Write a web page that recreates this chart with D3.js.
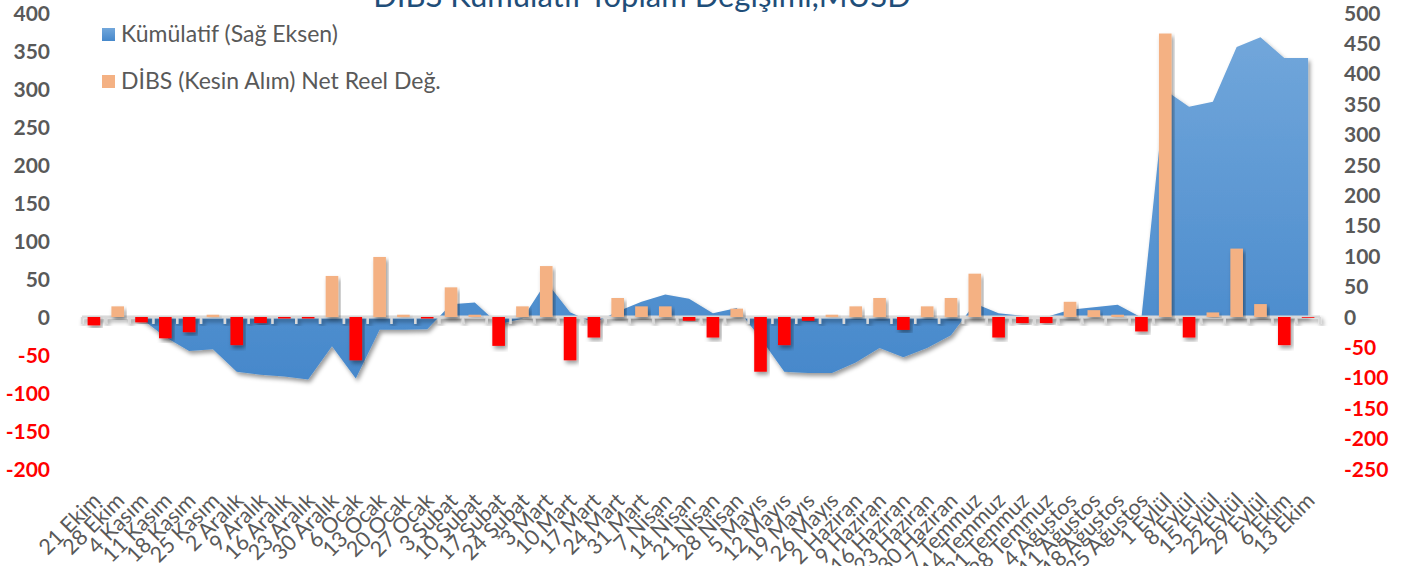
<!DOCTYPE html>
<html>
<head>
<meta charset="utf-8">
<script src="https://cdn.jsdelivr.net/npm/d3@7"></script>
<style>
  body { margin: 0; background: #fff; }
  svg { display: block; font-family: Lato, "Open Sans", sans-serif; }
</style>
</head>
<body>
<div class="canvas"></div>
<script>
const categories = ['21 Ekim','28 Ekim','4 Kasım','11 Kasım','18 Kasım','25 Kasım','2 Aralık','9 Aralık','16 Aralık','23 Aralık','30 Aralık',
  '6 Ocak','13 Ocak','20 Ocak','27 Ocak','3 Şubat','10 Şubat','17 Şubat','24 Şubat','3 Mart','10 Mart','17 Mart','24 Mart','31 Mart',
  '7 Nisan','14 Nisan','21 Nisan','28 Nisan','5 Mayıs','12 Mayıs','19 Mayıs','26 Mayıs','2 Haziran','9 Haziran','16 Haziran','23 Haziran','30 Haziran',
  '7 Temmuz','14 Temmuz','21 Temmuz','28 Temmuz','4 Ağustos','11 Ağustos','18 Ağustos','25 Ağustos','1 Eylül','8 Eylül','15 Eylül','22 Eylül','29 Eylül',
  '6 Ekim','13 Ekim'];

// DİBS (Kesin Alım) Net Reel Değ. - left axis
const dibs = [-11, 14, -7, -28, -20, 3, -37, -8, -2, -2, 54, -57, 79, 3, -2, 39, 3, -38, 14, 67, -57, -27, 25, 14, 14, -5,
  -27, 11, -72, -37, -5, 3, 14, 25, -17, 14, 25, 57, -27, -8, -8, 20, 9, 3, -19, 373, -27, 6, 90, 17, -37, -1];

// Kümülatif (Sağ Eksen) - right axis
const cumulative = [-2, 1, -3, -33, -56, -53, -90, -95, -98, -103, -48, -101, -21, -21, -20, 21, 24, -12, -3, 58, 8, -10, 9, 25, 37, 30,
  6, 15, -35, -90, -92, -92, -75, -51, -66, -51, -30, 22, 6, 2, 0, 12, 16, 20, -1, 373, 346, 354, 444, 460, 426, 426];

const leftTicks = [-200, -150, -100, -50, 0, 50, 100, 150, 200, 250, 300, 350, 400];
const rightTicks = [-250, -200, -150, -100, -50, 0, 50, 100, 150, 200, 250, 300, 350, 400, 450, 500];

const title = 'DİBS Kümülatif Toplam Değişimi,MUSD';
const legendNames = ['Kümülatif (Sağ Eksen)', 'DİBS (Kesin Alım) Net Reel Değ.'];

const dims = { width: 1412, height: 566 };
const plot = { left: 82, right: 1320, top: 13, bottom: 469 };

const svg = d3.select('.canvas')
    .append('svg')
    .attr('width', dims.width)
    .attr('height', dims.height)

const defs = svg.append('defs');

const grad = defs.append('linearGradient')
    .attr('id', 'areaGrad')
    .attr('gradientUnits', 'userSpaceOnUse')
    .attr('x1', 0).attr('y1', 30).attr('x2', 0).attr('y2', 380);
grad.append('stop').attr('offset', '0%').attr('stop-color', '#72a7db');
grad.append('stop').attr('offset', '100%').attr('stop-color', '#4688cb');

const legGrad = defs.append('linearGradient')
    .attr('id', 'legGrad')
    .attr('x1', 0).attr('y1', 0).attr('x2', 0).attr('y2', 1);
legGrad.append('stop').attr('offset', '0%').attr('stop-color', '#72a7db');
legGrad.append('stop').attr('offset', '100%').attr('stop-color', '#4688cb');

const shadow = defs.append('filter')
    .attr('id', 'shadow')
    .attr('x', '-20%').attr('y', '-20%').attr('width', '140%').attr('height', '140%');
shadow.append('feDropShadow')
    .attr('dx', 2).attr('dy', 3).attr('stdDeviation', 2.2)
    .attr('flood-color', '#000').attr('flood-opacity', 0.4);

// scales
const x = d3.scaleBand()
    .domain(categories)
    .range([plot.left, plot.right])
    .paddingInner(0.47)
    .paddingOuter(0.235);

const yL = d3.scaleLinear().domain([-200, 400]).range([plot.bottom, plot.top]);
const yR = d3.scaleLinear().domain([-250, 500]).range([plot.bottom, plot.top]);

const cx = c => x(c) + x.bandwidth() / 2;
const grey = '#595959';

// cumulative area
const area = d3.area()
    .x((d, i) => cx(categories[i]))
    .y0(yR(0))
    .y1(d => yR(d));

svg.append('path')
    .datum(cumulative)
    .attr('d', area)
    .attr('fill', 'url(#areaGrad)')
    .attr('filter', 'url(#shadow)');

// x axis line + ticks
const axisG = svg.append('g').attr('filter', 'url(#shadow)');
axisG.append('line')
    .attr('x1', plot.left).attr('x2', plot.right)
    .attr('y1', yL(0)).attr('y2', yL(0))
    .attr('stroke', '#d9d9d9').attr('stroke-width', 3);

const bounds = d3.range(categories.length + 1).map(i => plot.left + i * x.step());
axisG.selectAll('.tick-mark')
    .data(bounds)
    .enter()
    .append('line')
    .attr('class', 'tick-mark')
    .attr('x1', d => d).attr('x2', d => d)
    .attr('y1', yL(0)).attr('y2', yL(0) + 7)
    .attr('stroke', '#d9d9d9').attr('stroke-width', 2.5);

// bars
svg.append('g')
    .selectAll('rect')
    .data(dibs)
    .enter()
    .append('rect')
    .attr('x', (d, i) => x(categories[i]))
    .attr('width', x.bandwidth())
    .attr('y', d => d >= 0 ? yL(d) : yL(0))
    .attr('height', d => Math.abs(yL(d) - yL(0)))
    .attr('fill', d => d >= 0 ? '#f4b183' : '#ff0000')
    .attr('filter', 'url(#shadow)');

// left axis labels
svg.append('g')
    .selectAll('text')
    .data(leftTicks)
    .enter()
    .append('text')
    .attr('x', 50)
    .attr('y', d => yL(d))
    .attr('dy', '0.36em')
    .attr('text-anchor', 'end')
    .attr('font-size', 21)
    .attr('font-weight', 'bold')
    .attr('fill', d => d < 0 ? '#ff0000' : grey)
    .text(d => d);

// right axis labels
svg.append('g')
    .selectAll('text')
    .data(rightTicks)
    .enter()
    .append('text')
    .attr('x', 1344)
    .attr('y', d => yR(d))
    .attr('dy', '0.36em')
    .attr('text-anchor', 'start')
    .attr('font-size', 21)
    .attr('font-weight', 'bold')
    .attr('fill', d => d < 0 ? '#ff0000' : grey)
    .text(d => d);

// category labels
svg.append('g')
    .selectAll('text')
    .data(categories)
    .enter()
    .append('text')
    .attr('transform', d => `translate(${cx(d) + 8}, 502) rotate(-45)`)
    .attr('text-anchor', 'end')
    .attr('font-size', 21.5)
    .attr('fill', grey)
    .text(d => d);

// title (cut off at top, as in the original)
svg.append('text')
    .attr('x', 642)
    .attr('y', 7)
    .attr('text-anchor', 'middle')
    .attr('font-size', 31)
    .attr('fill', '#1f4e79')
    .text(title);

// legend
const legend = svg.append('g');
const legendFill = ['url(#legGrad)', '#f4b183'];
legendNames.forEach((name, i) => {
    const ly = 35 + i * 47;
    legend.append('rect')
        .attr('x', 102).attr('y', ly - 7)
        .attr('width', 13).attr('height', 13)
        .attr('fill', legendFill[i]);
    legend.append('text')
        .attr('x', 121).attr('y', ly - 1)
        .attr('dy', '0.35em')
        .attr('font-size', 23)
        .attr('fill', grey)
        .text(name);
});
</script>
</body>
</html>
